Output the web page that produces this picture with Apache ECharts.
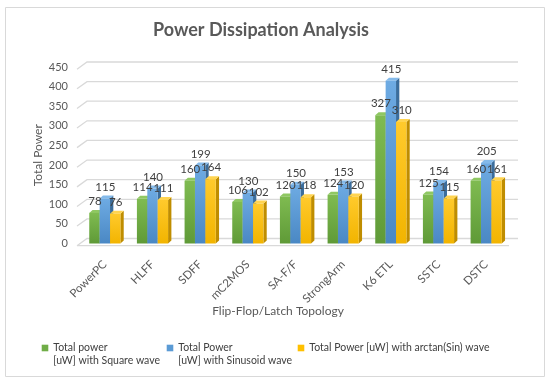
<!DOCTYPE html>
<html>
<head>
<meta charset="utf-8">
<script src="https://cdn.jsdelivr.net/npm/echarts@6/dist/echarts.min.js"></script>
<style>html,body{margin:0;padding:0;background:#fff}#chart{width:550px;height:384px}</style>
</head>
<body>
<div id="chart"></div>
<script>
const categories = ['PowerPC', 'HLFF', 'SDFF', 'mC2MOS', 'SA-F/F', 'StrongArm', 'K6 ETL', 'SSTC', 'DSTC'];
const squareWave = [78, 114, 160, 106, 120, 124, 327, 125, 160];
const sinusoidWave = [115, 140, 199, 130, 150, 153, 415, 154, 205];
const arctanSinWave = [76, 111, 164, 102, 118, 120, 310, 115, 161];
const yTicks = [0, 50, 100, 150, 200, 250, 300, 350, 400, 450];
const seriesNames = [
  'Total power [uW] with Square wave',
  'Total Power [uW] with Sinusoid wave',
  'Total Power [uW] with arctan(Sin) wave'
];
const legendTexts = [
  '\nTotal power\n[uW] with Square wave',
  '\nTotal Power\n[uW] with Sinusoid wave',
  '\nTotal Power [uW] with arctan(Sin) wave\n'
];
const FONT = 'Lato, "Liberation Sans", sans-serif';
const palettes = [
  { legend: '#70ad47', top: '#7fbb51', bottom: '#5f9a37', side: '#4d7f2d', cap: '#8fc862' },
  { legend: '#5b9bd5', top: '#6eabe3', bottom: '#4a88c4', side: '#3b6d9c', cap: '#84baea' },
  { legend: '#ffc000', top: '#ffca2c', bottom: '#f2b400', side: '#bf8d00', cap: '#ffd450' }
];

const chart = echarts.init(document.getElementById('chart'));

function barSeries(k, values) {
  const pal = palettes[k];
  return {
    type: 'custom',
    name: seriesNames[k],
    z: 3,
    itemStyle: { color: pal.legend },
    data: values.map((v, i) => [i, v]),
    renderItem: function (params, api) {
      const i = api.value(0), v = api.value(1);
      const top = api.coord([i, v]);
      const base = api.coord([i, 0]);
      const band = api.size([1, 0])[0];
      const bw = band * 0.218;
      const dx = 3.3, dy = 3;
      const x0 = top[0] - 1.5 * bw + k * bw;
      const yT = top[1], yB = base[1];
      return {
        type: 'group',
        children: [
          { type: 'polygon', shape: { points: [[x0 + bw, yT], [x0 + bw + dx, yT - dy], [x0 + bw + dx, yB - dy], [x0 + bw, yB]] }, style: { fill: pal.side } },
          { type: 'polygon', shape: { points: [[x0, yT], [x0 + dx, yT - dy], [x0 + bw + dx, yT - dy], [x0 + bw, yT]] }, style: { fill: pal.cap } },
          { type: 'rect', shape: { x: x0, y: yT, width: bw, height: yB - yT },
            style: { fill: new echarts.graphic.LinearGradient(0, 0, 0, 1, [{ offset: 0, color: pal.top }, { offset: 1, color: pal.bottom }]) } },
          { type: 'text', x: x0 + bw / 2 + 0.5, y: yT - 11.5, z2: 100,
            style: { text: String(v), fill: '#404040', font: '11.5px ' + FONT, align: 'center', verticalAlign: 'middle' } }
        ]
      };
    }
  };
}

const gridSeries = {
  type: 'custom',
  silent: true,
  z: 1,
  data: yTicks.map(v => [0, v]),
  renderItem: function (params, api) {
    const v = api.value(1);
    const p = api.coord([0, v]);
    const band = api.size([1, 0])[0];
    const xl = p[0] - band / 2;
    const xr = api.coord([categories.length - 1, v])[0] + band / 2;
    const y = p[1];
    const children = [
      { type: 'polyline', shape: { points: [[xl - 4, y + 2.2], [xl + 6, y - 5], [xr + 8, y - 5]] }, style: { stroke: '#d9d9d9', lineWidth: 1.3, fill: null } }
    ];
    if (v === 0) {
      children.push({ type: 'line', shape: { x1: xl - 4, y1: y + 2.2, x2: xr - 1, y2: y + 2.2 }, style: { stroke: '#d9d9d9', lineWidth: 1.3 } });
    }
    return { type: 'group', children: children };
  }
};

function legendAt(k, left) {
  return {
    data: [seriesNames[k]],
    left: left, top: 328.5, padding: 0,
    itemWidth: 6.6, itemHeight: 6.6, icon: 'rect',
    selectedMode: false,
    formatter: () => legendTexts[k],
    textStyle: { color: '#404040', fontSize: 10.5, fontFamily: FONT, lineHeight: 13 }
  };
}

chart.setOption({
  animation: false,
  grid: { left: 81, right: 40, top: 67, bottom: 140.5 },
  graphic: [
    { type: 'rect', shape: { x: 5.5, y: 7.5, width: 539, height: 369 }, style: { fill: null, stroke: '#d9d9d9', lineWidth: 1 }, silent: true },
    { type: 'text', x: 261, y: 30, style: { text: 'Power Dissipation Analysis', font: 'bold 18px ' + FONT, fill: '#595959', align: 'center', verticalAlign: 'middle' } },
    { type: 'text', x: 278, y: 311, style: { text: 'Flip-Flop/Latch Topology', font: '12px ' + FONT, fill: '#595959', align: 'center', verticalAlign: 'middle' } }
  ],
  legend: [legendAt(0, 41.7), legendAt(1, 166.7), legendAt(2, 297.7)],
  xAxis: {
    type: 'category',
    data: categories,
    axisLine: { show: false },
    axisTick: { show: false },
    axisLabel: { rotate: 45, margin: 19, padding: 0, color: '#595959', fontSize: 11.5, fontFamily: FONT, interval: 0 }
  },
  yAxis: {
    type: 'value',
    min: 0, max: 450, interval: 50,
    name: 'Total Power',
    nameLocation: 'middle',
    nameRotate: 90,
    nameGap: 43,
    nameMoveOverlap: false,
    nameTextStyle: { color: '#595959', fontSize: 12, fontFamily: FONT, verticalAlign: 'middle', padding: [0, 0, 0, 0] },
    axisLine: { show: false },
    axisTick: { show: false },
    splitLine: { show: false },
    axisLabel: { margin: 13, padding: [4, 0, 0, 0], color: '#595959', fontSize: 11, fontFamily: FONT }
  },
  series: [gridSeries, barSeries(0, squareWave), barSeries(1, sinusoidWave), barSeries(2, arctanSinWave)]
});
</script>
</body>
</html>
